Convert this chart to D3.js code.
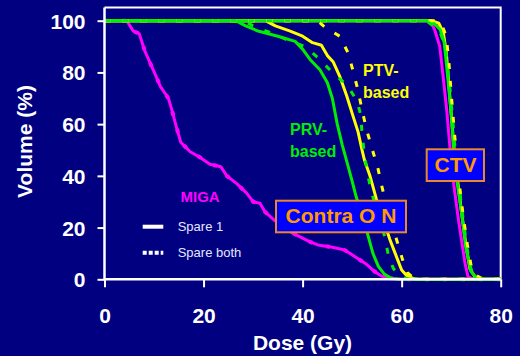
<!DOCTYPE html>
<html>
<head>
<meta charset="utf-8">
<script src="https://cdn.jsdelivr.net/npm/d3@7"></script>
<style>
  html, body { margin: 0; padding: 0; background: #000080; }
  svg { display: block; }
  text { font-family: "Liberation Sans", Arial, sans-serif; }
</style>
</head>
<body>
<svg id="chart" width="520" height="356"></svg>
<script>
// ---- data: [dose (Gy), volume (%)] ----
const doseTicks = [0, 20, 40, 60, 80];
const volumeTicks = [0, 20, 40, 60, 80, 100];

const migaSpare1 = [[0,100],[4.5,100],[5.8,96],[7,95],[8.2,88],[10,80.3],[11.3,74.5],[12.9,70],[13.6,65.5],[14.4,59.7],[15.4,53],[17.3,49.3],[19,47.5],[21.3,44.5],[23.5,43.5],[24.7,40],[26.7,37],[28.7,33.3],[30,30],[31.4,29.4],[32.4,26.1],[34.4,22.7],[36,20],[38.8,17.1],[41.5,14.5],[43.1,13.3],[46,12.4],[48.5,11.3],[50.6,8.7],[52.9,5.8],[54.6,2.9],[56,1.2],[57.6,0.5],[59.5,0],[80,0]];
const ctvMiga = [[0,100],[65,100],[66,99.3],[66.7,96.3],[67.7,90],[68.4,78],[69.1,65.5],[69.8,50],[70.4,38.5],[71.4,24],[72.1,15],[72.8,6.2],[73.4,1],[74.5,0],[80,0]];

const prvSpare1 = [[0,100],[26.5,100],[28.5,98],[31,96],[35,94],[38.5,92],[40,89],[41.5,85],[43.5,81],[45,76],[46,70],[47,60],[48,52],[49,45],[50,38],[50.8,32],[52,25],[53.2,17],[54.2,10],[55.3,5],[56.5,2],[58,0.3],[60,0],[80,0]];
const prvSpareBoth = [[0,100],[28,100],[30,98],[34,95],[37,92.5],[40.5,90],[43.5,85],[46,80],[49,75],[51,69],[51.8,63],[52,56],[52.5,48],[53.2,40],[54,33],[55.5,24],[56.5,17],[57.3,9.5],[58.3,4.3],[59.5,1.5],[61,0.2],[62,0],[80,0]];
const ctvPrvSpare1 = [[0,100],[65.5,100],[66.5,99],[67.8,96.5],[68.6,91.5],[69.3,78.5],[70,64],[70.5,50],[71.1,39],[72.1,25.5],[73,12],[74,3],[75,0.8],[76.5,0],[80,0]];
const ctvPrvSpareBoth = [[0,100],[65,100],[66,98.5],[67.5,97],[68.8,90],[69.6,77],[70.3,62],[70.8,50],[71.5,38],[72.3,25],[73.2,12],[74,4],[75,1],[76.5,0],[80,0]];

const ptvSpare1 = [[0,100],[32.5,100],[34.5,98],[37.5,96],[40,94],[42,91.5],[43.8,90.5],[45,86.5],[46.2,84],[47.5,78.5],[48.9,71],[50.2,63],[51.2,57],[52,50],[52.5,46],[53.6,40],[54.9,31],[56.3,23],[57.6,15.5],[58.5,11],[59.2,7.5],[60,3.6],[61,1.5],[62.5,0.2],[63.5,0],[80,0]];
const ptvSpareBoth = [[0,100],[43,100],[44.5,97.5],[47.5,94],[49.2,87.5],[50.2,80.5],[51.2,73],[52,65.5],[52.9,58],[53.9,51.3],[55.2,43],[56,36],[57,28],[58,21],[59,15.2],[60.2,7.5],[61.2,2.5],[62.5,0.3],[64,0],[80,0]];
const ctvPtvSpare1 = [[0,100],[66,100],[67.5,99],[68.4,95.5],[69,88],[69.5,76],[70.1,62],[70.6,50],[71.3,38],[72.1,26],[73,13],[73.8,4],[74.8,1],[76,0],[80,0]];
const ctvPtvSpareBoth = [[0,100],[66.5,100],[68,99],[69,94],[69.5,85],[70,72],[70.6,58],[71.1,47],[71.7,36],[72.4,25],[73.2,14],[74.1,4.5],[75,1.5],[76.5,0],[80,0]];

// ---- layout ----
const svg = d3.select("#chart");
const C = { bg: "#000080", mag: "#ff00ff", yel: "#ffff00", grn: "#00ee00", org: "#ff9900", box: "#0000ff", boxEdge: "#e8882a" };
svg.append("rect").attr("width", 520).attr("height", 356).attr("fill", C.bg);

const x = d3.scaleLinear().domain([0, 80]).range([104.5, 500.7]);
const y = d3.scaleLinear().domain([0, 100]).range([279.3, 20.7]);
const yTop = 105.1;

const line = d3.line().x(d => x(d[0])).y(d => y(d[1]));

// frame (top + right)
svg.append("path")
  .attr("d", `M${x(0)},${y(yTop)}H${x(80)}V${y(0)}`)
  .attr("fill", "none").attr("stroke", "#ffffff").attr("stroke-width", 2);

// curves, drawn bottom to top
const series = [
  { d: migaSpare1, c: C.mag, dash: null },
  { d: migaSpare1, c: C.mag, dash: "4,14", w: 4 },
  { d: ctvMiga, c: C.mag, dash: null },
  { d: ptvSpare1, c: C.yel, dash: null },
  { d: ctvPtvSpare1, c: C.yel, dash: null },
  { d: prvSpare1, c: C.grn, dash: null },
  { d: ctvPrvSpare1, c: C.grn, dash: null },
  { d: ptvSpareBoth, c: C.yel, dash: "6,12" },
  { d: ctvPtvSpareBoth, c: C.yel, dash: "6,12" },
  { d: prvSpareBoth, c: C.grn, dash: "6,12" },
  { d: ctvPrvSpareBoth, c: C.grn, dash: "6,12" }
];
svg.append("g").selectAll("path").data(series).join("path")
  .attr("d", s => line(s.d))
  .attr("fill", "none")
  .attr("stroke", s => s.c)
  .attr("stroke-width", s => s.w || 3)
  .attr("stroke-linejoin", "round")
  .attr("stroke-dasharray", s => s.dash);

// axes
const xAxis = svg.append("g").attr("transform", `translate(0,${y(0)})`)
  .call(d3.axisBottom(x).tickValues(doseTicks).tickSize(8).tickPadding(21).tickSizeOuter(0));
const yAxis = svg.append("g").attr("transform", `translate(${x(0)},0)`)
  .call(d3.axisLeft(y).tickValues(volumeTicks).tickSize(7).tickPadding(12).tickSizeOuter(0));
[xAxis, yAxis].forEach(a => {
  a.select(".domain").remove();
  a.selectAll("line").attr("stroke", "#fff").attr("stroke-width", 2);
  a.selectAll("text").attr("fill", "#fff").attr("font-size", 21).attr("font-weight", "bold")
    .attr("font-family", "'Liberation Sans', Arial, sans-serif");
});
yAxis.selectAll("text").attr("dy", "0.36em");
// axis lines
svg.append("path")
  .attr("d", `M${x(0)},${y(yTop)}V${y(0)}H${x(80)}`)
  .attr("fill", "none").attr("stroke", "#fff").attr("stroke-width", 2.5);

// axis titles
svg.append("text").attr("x", 302.5).attr("y", 349.5).attr("text-anchor", "middle")
  .attr("fill", "#fff").attr("font-size", 21).attr("font-weight", "bold").text("Dose (Gy)");
svg.append("text").attr("transform", "translate(32,141.5) rotate(-90)").attr("text-anchor", "middle")
  .attr("fill", "#fff").attr("font-size", 21).attr("font-weight", "bold").text("Volume (%)");

// curve labels
function label(tx, ty, txt, col, size) {
  svg.append("text").attr("x", tx).attr("y", ty).attr("fill", col)
    .attr("font-size", size).attr("font-weight", "bold").text(txt);
}
label(363, 75.5, "PTV-", C.yel, 16);
label(363, 97.5, "based", C.yel, 16);
label(290, 135, "PRV-", C.grn, 16);
label(290, 157, "based", C.grn, 16);
label(180.5, 201.7, "MIGA", C.mag, 15);

// boxed labels
function boxLabel(bx, by, bw, bh, txt, tx, ty) {
  svg.append("rect").attr("x", bx).attr("y", by).attr("width", bw).attr("height", bh)
    .attr("fill", C.box).attr("stroke", C.boxEdge).attr("stroke-width", 2);
  svg.append("text").attr("x", tx).attr("y", ty).attr("text-anchor", "middle")
    .attr("fill", C.org).attr("font-size", 21).attr("font-weight", "bold").text(txt);
}
boxLabel(426.7, 149.3, 57.3, 31.7, "CTV", 455.5, 171.7);
boxLabel(276, 200.7, 130, 31.6, "Contra O N", 341, 223.3);

// legend
const legend = [
  { name: "Spare 1", dash: null, ly: 226.7 },
  { name: "Spare both", dash: "4,2", ly: 252.7 }
];
const lg = svg.append("g").selectAll("g").data(legend).join("g");
lg.append("line").attr("x1", 142.7).attr("x2", 163.3).attr("y1", d => d.ly).attr("y2", d => d.ly)
  .attr("stroke", "#fff").attr("stroke-width", 4).attr("stroke-dasharray", d => d.dash);
lg.append("text").attr("x", 177.7).attr("y", d => d.ly + 4.5).attr("fill", "#e6e6ff")
  .attr("font-size", 13).text(d => d.name);
</script>
</body>
</html>
